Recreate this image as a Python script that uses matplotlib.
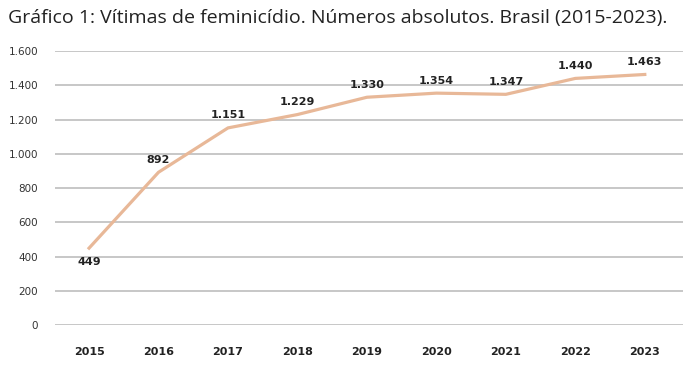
import matplotlib.pyplot as plt

years = ['2015', '2016', '2017', '2018', '2019', '2020', '2021', '2022', '2023']
victims = [449, 892, 1151, 1229, 1330, 1354, 1347, 1440, 1463]
labels = ['449', '892', '1.151', '1.229', '1.330', '1.354', '1.347', '1.440', '1.463']
yticks = [0, 200, 400, 600, 800, 1000, 1200, 1400, 1600]
ytick_labels = ['0', '200', '400', '600', '800', '1.000', '1.200', '1.400', '1.600']

narrow = 'Liberation Sans Narrow'

fig = plt.figure(figsize=(6.92, 3.68), dpi=100)
ax = fig.add_axes([0.0795, 0.1168, 0.9075, 0.7446])

x = list(range(len(years)))
ax.plot(x, victims, color='#E8B898', linewidth=2.3, zorder=3)

# data labels, first one goes under the line
for i, (v, lab) in enumerate(zip(victims, labels)):
    dy = -10 if i == 0 else 9
    ax.annotate(lab, (i, v), xytext=(0, dy), textcoords='offset points',
                ha='center', va='center', fontsize=8, fontweight='bold',
                color='#222222', family=narrow)

ax.set_xlim(-0.49, 8.55)
ax.set_ylim(0, 1600)
ax.set_yticks(yticks)
ax.set_yticklabels(ytick_labels, family=narrow, fontsize=7.5, color='#333333')
ax.set_xticks(x)
ax.set_xticklabels(years, family=narrow, fontsize=8, fontweight='bold', color='#222222')
ax.tick_params(axis='y', length=0, pad=12)
ax.tick_params(axis='x', length=0, pad=16)

ax.grid(axis='y', color='#BDBDBD', linewidth=1.2)
ax.set_axisbelow(True)
for s in ax.spines.values():
    s.set_visible(False)

fig.text(0.012, 0.951, 'Gráfico 1: Vítimas de feminicídio. Números absolutos. Brasil (2015-2023).',
         family='Open Sans', fontsize=14, color='#222222', va='center', ha='left')

plt.savefig('out.png', dpi=100)
